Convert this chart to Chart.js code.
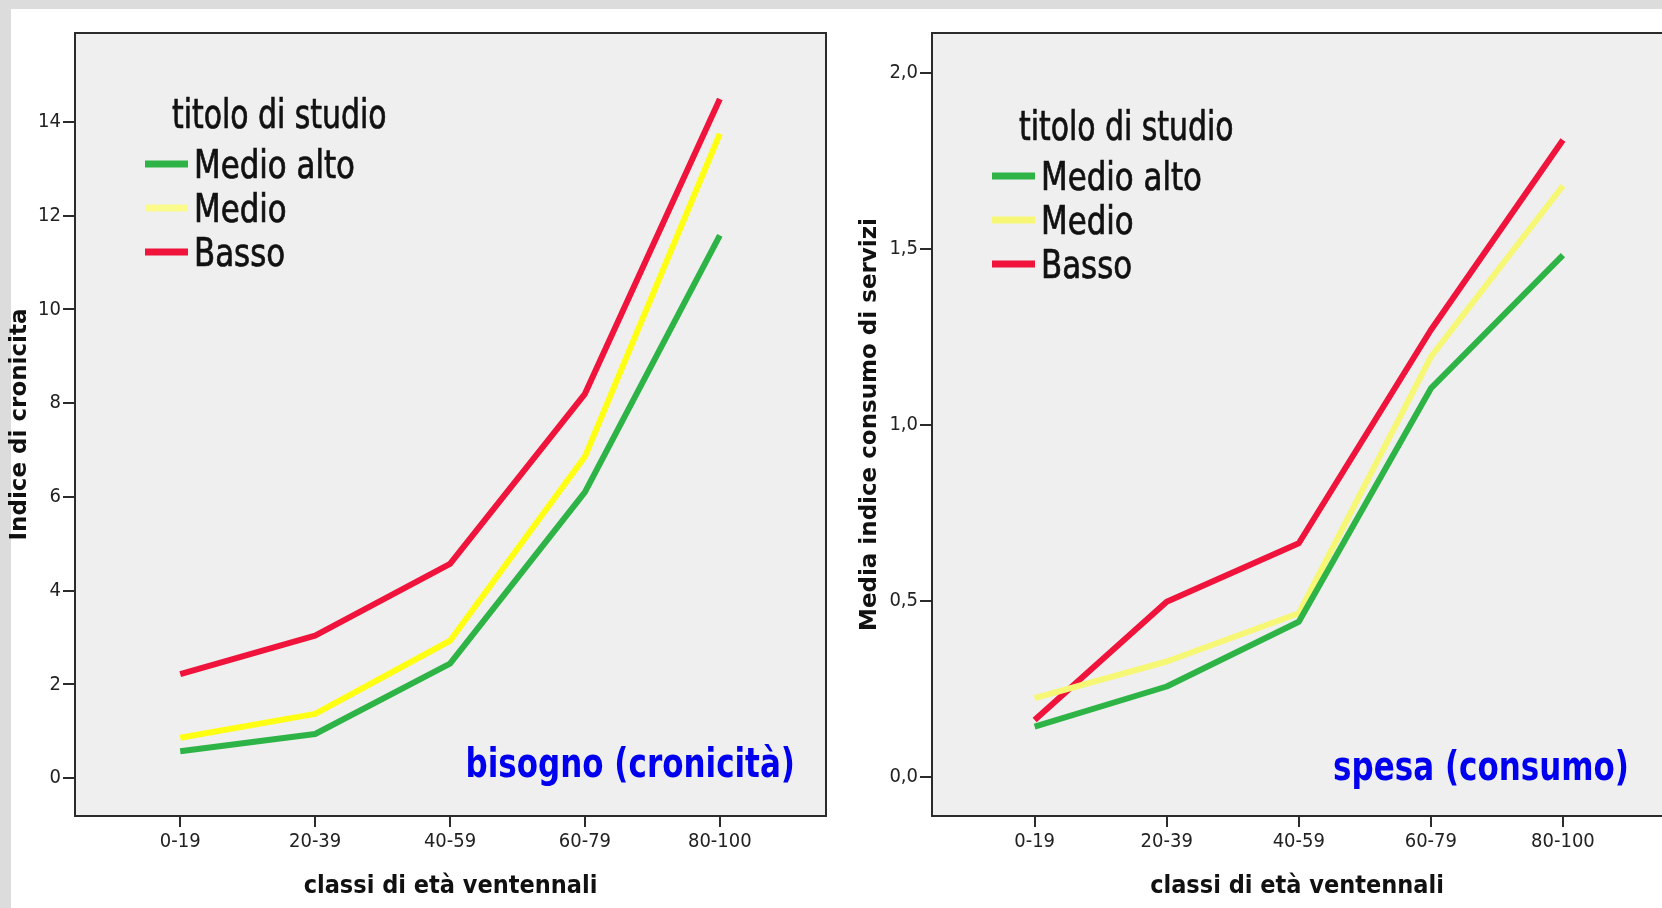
<!DOCTYPE html>
<html>
<head>
<meta charset="utf-8">
<script src="https://cdn.jsdelivr.net/npm/chart.js@4"></script>
<style>
  html, body { margin: 0; padding: 0; }
  body {
    width: 1662px; height: 908px; overflow: hidden; position: relative;
    background: #dcdcdc;
  }
  .sheet { position: absolute; left: 11px; top: 9px; right: 0; bottom: 0; background: #fff; }
  .box { position: absolute; top: 0; height: 908px; }
  .legend { position: absolute; font-family: 'Liberation Sans Narrow', 'DejaVu Sans Condensed', sans-serif; color: #111;
    -webkit-text-stroke: 0.7px #111; }
  .legend .ttl { position: absolute; white-space: nowrap; font-size: 40px; line-height: 40px;
    transform: translateY(-50%) scaleX(0.83); transform-origin: left center; }
  .legend .item { position: absolute; white-space: nowrap; font-size: 39px; line-height: 39px;
    transform: translateY(-50%) scaleX(0.88); transform-origin: left center; }
  .legend .sw { position: absolute; height: 7px; width: 43px; transform: translateY(-50%); }
  .note { position: absolute; white-space: nowrap; color: #0000ee; font-weight: bold;
    font-family: 'Liberation Sans Narrow', 'DejaVu Sans Condensed', sans-serif; font-size: 41px; line-height: 41px;
    transform: translate(-100%, -50%) scaleX(0.84); transform-origin: right center; }
</style>
</head>
<body>
<div class="sheet"></div>
<div class="box" style="left:0;width:830px"><canvas id="cronChart"></canvas></div>
<div class="box" style="left:830px;width:832px"><canvas id="spesaChart"></canvas></div>

<div class="legend" id="legLeft"></div>
<div class="legend" id="legRight"></div>
<div class="note" style="left:795px;top:763px">bisogno (cronicità)</div>
<div class="note" style="left:1629px;top:766px">spesa (consumo)</div>

<script>
// classi di età
const ageClasses = ['0-19', '20-39', '40-59', '60-79', '80-100'];
const seriesNames = ['Medio alto', 'Medio', 'Basso'];

// indice di cronicità
const cronMedioAlto = [0.57, 0.94, 2.44, 6.10, 11.58];
const cronMedio     = [0.86, 1.37, 2.93, 6.86, 13.75];
const cronBasso     = [2.22, 3.04, 4.57, 8.20, 14.49];
const cronTicks = [0, 2, 4, 6, 8, 10, 12, 14];

// media indice consumo di servizi
const spesaMedioAlto = [0.143, 0.257, 0.441, 1.104, 1.483];
const spesaMedio     = [0.224, 0.328, 0.465, 1.194, 1.68];
const spesaBasso     = [0.162, 0.498, 0.664, 1.27, 1.81];
const spesaTicks = [0, 0.5, 1, 1.5, 2];

const green = '#2eb446';
const red = '#f0143c';

const narrow = "'Liberation Sans Narrow', 'DejaVu Sans Condensed', sans-serif";

// sfondo grigio e cornice dell'area del grafico
const frame = {
    id: 'frame',
    beforeDraw(chart) {
        const a = chart.chartArea, ctx = chart.ctx;
        ctx.save();
        ctx.fillStyle = '#efefef';
        ctx.fillRect(a.left, a.top, a.right - a.left, a.bottom - a.top);
        ctx.restore();
    },
    afterDraw(chart, args, opts) {
        const a = chart.chartArea, ctx = chart.ctx;
        ctx.save();
        ctx.strokeStyle = '#2b2b2b';
        ctx.lineWidth = 2;
        ctx.strokeRect(a.left, a.top, a.right - a.left + (opts.openRight ? 20 : 0), a.bottom - a.top);
        ctx.restore();
    }
};

function toPoints(values) {
    return values.map((v, i) => ({ x: i, y: v }));
}

function makeChart(id, cfg) {
    const ctx = document.getElementById(id).getContext('2d');
    return new Chart(ctx, {
        type: 'line',
        data: {
            datasets: [
                { label: seriesNames[0], data: toPoints(cfg.series[0]), borderColor: green },
                { label: seriesNames[1], data: toPoints(cfg.series[1]), borderColor: cfg.yellow },
                { label: seriesNames[2], data: toPoints(cfg.series[2]), borderColor: red }
            ]
        },
        options: {
            responsive: true,
            maintainAspectRatio: false,
            animation: false,
            layout: { padding: { top: 33, right: cfg.padRight, left: 0, bottom: 0 } },
            elements: {
                line: { borderWidth: 6, tension: 0, borderJoinStyle: 'round', borderCapStyle: 'butt' },
                point: { radius: 0 }
            },
            plugins: {
                legend: { display: false },
                tooltip: { enabled: false },
                frame: { openRight: cfg.openRight }
            },
            scales: {
                x: {
                    type: 'linear',
                    min: cfg.xMin,
                    max: cfg.xMax,
                    afterFit: s => { s.height = 92; },
                    afterBuildTicks: s => { s.ticks = ageClasses.map((c, i) => ({ value: i })); },
                    grid: { drawOnChartArea: false, drawTicks: true, tickLength: 11, color: '#2b2b2b', lineWidth: 2 },
                    border: { display: false },
                    ticks: {
                        padding: 3,
                        color: '#222',
                        font: { family: narrow, size: 20 },
                        maxRotation: 0,
                        callback: v => ageClasses[v]
                    },
                    title: {
                        display: true,
                        text: 'classi di età ventennali',
                        color: '#111',
                        font: { family: narrow, size: 25, weight: 'bold' },
                        padding: { top: 0, bottom: 7 }
                    }
                },
                y: {
                    min: cfg.yMin,
                    max: cfg.yMax,
                    afterFit: s => { s.width = cfg.yWidth; },
                    afterBuildTicks: s => { s.ticks = cfg.ticks.map(v => ({ value: v })); },
                    grid: { drawOnChartArea: false, drawTicks: true, tickLength: 12, color: '#2b2b2b', lineWidth: 2 },
                    border: { display: false },
                    ticks: {
                        padding: 2,
                        color: '#222',
                        font: { family: narrow, size: 20 },
                        callback: cfg.fmt
                    },
                    title: {
                        display: true,
                        text: cfg.yTitle,
                        color: '#111',
                        font: { family: "'DejaVu Sans', sans-serif", size: 23, weight: 'bold' },
                        padding: { top: cfg.yTitlePad, bottom: 0 }
                    }
                }
            }
        },
        plugins: [frame]
    });
}

function buildLegend(id, left, top, yellow) {
    const el = document.getElementById(id);
    const colors = [green, yellow, red];
    let html = '<div class="ttl" style="left:' + (left + 27) + 'px;top:' + top + 'px">titolo di studio</div>';
    seriesNames.forEach((n, i) => {
        const y = top + 50 + i * 44;
        html += '<div class="sw" style="left:' + left + 'px;top:' + y + 'px;background:' + colors[i] + '"></div>';
        html += '<div class="item" style="left:' + (left + 49) + 'px;top:' + y + 'px">' + n + '</div>';
    });
    el.innerHTML = html;
}

makeChart('cronChart', {
    series: [cronMedioAlto, cronMedio, cronBasso],
    yellow: '#ffff14',
    ticks: cronTicks,
    yMin: -0.81, yMax: 15.9,
    xMin: -0.78, xMax: 4.787,
    yWidth: 75, padRight: 4, openRight: false,
    yTitle: 'Indice di cronicita',
    yTitlePad: 6,
    fmt: v => String(v)
});

makeChart('spesaChart', {
    series: [spesaMedioAlto, spesaMedio, spesaBasso],
    yellow: '#f7f776',
    ticks: spesaTicks,
    yMin: -0.111, yMax: 2.114,
    xMin: -0.777, xMax: 4.75,
    yWidth: 102, padRight: 0, openRight: true,
    yTitle: 'Media indice consumo di servizi',
    yTitlePad: 26,
    fmt: v => v.toFixed(1).replace('.', ',')
});

buildLegend('legLeft', 145, 114, '#fbfb8c');
buildLegend('legRight', 992, 126, '#f7f776');
</script>
</body>
</html>
